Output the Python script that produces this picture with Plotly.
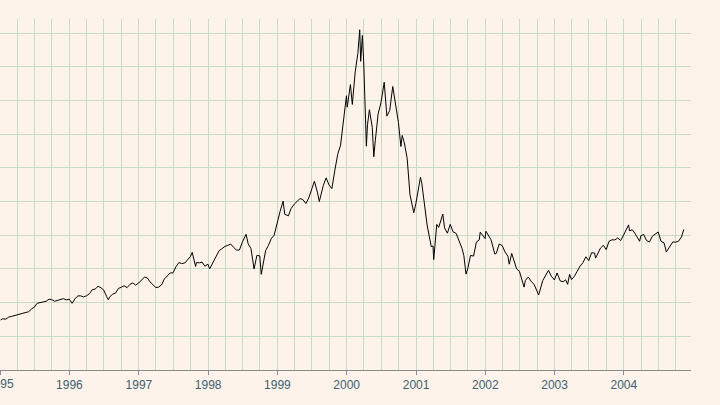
import plotly.graph_objects as go

dates = [
"1995-01-03","1995-01-15","1995-01-31","1995-02-15","1995-02-28","1995-03-15","1995-03-31","1995-04-15","1995-04-30","1995-05-15","1995-05-31","1995-06-15","1995-06-30","1995-07-15","1995-07-31","1995-08-15","1995-08-31","1995-09-15","1995-09-30","1995-10-15","1995-10-31","1995-11-15","1995-11-30","1995-12-15","1995-12-31",
"1996-01-15","1996-01-31","1996-02-15","1996-02-29","1996-03-15","1996-03-31","1996-04-15","1996-04-30","1996-05-15","1996-05-31","1996-06-15","1996-06-30","1996-07-15","1996-07-24","1996-07-31","1996-08-15","1996-08-31","1996-09-15","1996-09-30","1996-10-15","1996-10-31","1996-11-15","1996-11-30","1996-12-15","1996-12-31",
"1997-01-15","1997-01-31","1997-02-15","1997-02-28","1997-03-15","1997-03-31","1997-04-15","1997-04-30","1997-05-15","1997-05-31","1997-06-15","1997-06-30","1997-07-15","1997-07-31","1997-08-15","1997-08-31","1997-09-15","1997-09-30","1997-10-09","1997-10-27","1997-10-31","1997-11-15","1997-11-30","1997-12-15","1997-12-31",
"1998-01-09","1998-01-31","1998-02-15","1998-02-28","1998-03-15","1998-03-31","1998-04-15","1998-04-30","1998-05-15","1998-05-31","1998-06-15","1998-06-30","1998-07-20","1998-07-31","1998-08-15","1998-08-31","1998-09-15","1998-09-30","1998-10-08","1998-10-20","1998-10-31","1998-11-15","1998-11-30","1998-12-15","1998-12-31",
"1999-01-15","1999-01-31","1999-02-09","1999-02-28","1999-03-15","1999-03-31","1999-04-15","1999-04-30","1999-05-15","1999-05-31","1999-06-15","1999-06-30","1999-07-15","1999-07-31","1999-08-10","1999-08-31","1999-09-15","1999-09-30","1999-10-15","1999-10-31","1999-11-15","1999-11-30","1999-12-15","1999-12-31",
"2000-01-04","2000-01-21","2000-01-31","2000-02-15","2000-02-29","2000-03-10","2000-03-15","2000-03-24","2000-03-31","2000-04-14","2000-04-20","2000-04-30","2000-05-15","2000-05-23","2000-05-31","2000-06-15","2000-06-30","2000-07-17","2000-07-31","2000-08-15","2000-08-31","2000-09-15","2000-09-30","2000-10-13","2000-10-20","2000-10-31","2000-11-15","2000-11-30","2000-12-20","2000-12-31",
"2001-01-24","2001-01-31","2001-02-15","2001-02-28","2001-03-22","2001-03-31","2001-04-04","2001-04-20","2001-04-30","2001-05-22","2001-05-31","2001-06-15","2001-06-30","2001-07-15","2001-07-31","2001-08-15","2001-08-31","2001-09-10","2001-09-21","2001-09-30","2001-10-15","2001-10-31","2001-11-15","2001-11-30","2001-12-05","2001-12-31",
"2002-01-04","2002-01-31","2002-02-20","2002-02-28","2002-03-15","2002-03-31","2002-04-15","2002-04-30","2002-05-07","2002-05-20","2002-05-31","2002-06-15","2002-06-30","2002-07-24","2002-07-31","2002-08-15","2002-08-31","2002-09-15","2002-09-30","2002-10-09","2002-10-31","2002-11-15","2002-11-30","2002-12-15","2002-12-31",
"2003-01-14","2003-01-31","2003-02-15","2003-02-28","2003-03-11","2003-03-21","2003-03-31","2003-04-15","2003-04-30","2003-05-15","2003-05-31","2003-06-15","2003-06-30","2003-07-15","2003-07-31","2003-08-05","2003-08-31","2003-09-15","2003-09-30","2003-10-15","2003-10-31","2003-11-15","2003-11-30","2003-12-15","2003-12-31",
"2004-01-26","2004-01-31","2004-02-15","2004-02-28","2004-03-24","2004-03-31","2004-04-15","2004-04-30","2004-05-15","2004-05-31","2004-06-15","2004-06-30","2004-07-15","2004-07-31","2004-08-12","2004-08-31","2004-09-15","2004-09-30","2004-10-15","2004-10-31","2004-11-12",
]
values = [
743,760,755,785,794,805,817,826,843,858,865,905,933,990,1001,1010,1020,1050,1044,1020,1036,1050,1059,1040,1052,
990,1060,1100,1100,1085,1101,1130,1191,1200,1243,1220,1185,1090,1042,1081,1125,1141,1210,1227,1250,1222,1270,1293,1260,1291,
1330,1380,1365,1309,1270,1222,1230,1261,1350,1400,1440,1442,1530,1594,1580,1587,1640,1686,1745,1535,1594,1590,1601,1540,1570,
1500,1619,1710,1771,1800,1835,1850,1869,1820,1779,1780,1895,2014,1872,1800,1499,1700,1694,1420,1620,1771,1850,1950,2000,2193,
2350,2506,2310,2288,2400,2461,2500,2543,2530,2470,2550,2686,2800,2638,2500,2739,2850,2746,2690,2966,3200,3336,3650,4069,
3900,4235,3940,4420,4697,5048,4580,4963,4573,3321,3640,3861,3600,3164,3401,3800,3966,4270,3767,3850,4206,3900,3673,3316,3480,3370,3140,2598,2333,2471,
2859,2773,2450,2152,1830,1840,1638,2160,2116,2313,2110,2030,2161,2050,2027,1920,1805,1695,1423,1499,1700,1690,1900,1931,2046,1950,
2059,1934,1720,1731,1870,1845,1750,1688,1570,1730,1616,1500,1463,1230,1328,1380,1315,1270,1172,1114,1330,1410,1479,1390,1336,
1440,1321,1310,1338,1271,1420,1341,1390,1464,1540,1596,1680,1623,1740,1735,1660,1810,1850,1787,1910,1932,1930,1960,1920,2003,
2153,2066,2080,2030,1910,1994,2010,1920,1900,1987,2020,2048,1910,1887,1752,1838,1900,1897,1910,1975,2085,
]

fig = go.Figure(go.Scatter(x=dates, y=values, mode="lines",
                           line=dict(color="black", width=1), hoverinfo="skip"))
bg = "#fdf3ea"
grid = "#c6dcc4"
txt = "#3d6170"
fig.update_layout(
    width=720, height=405, paper_bgcolor=bg, plot_bgcolor=bg,
    margin=dict(l=0, r=29, t=19, b=35), showlegend=False,
    font=dict(family="Liberation Sans, Arial, sans-serif", size=12, color=txt),
)
fig.add_annotation(x="1995-01-01", y=0, xref="x", yref="paper", text="1995",
                   showarrow=False, yanchor="top", yshift=-5, font=dict(size=12, color=txt))
fig.update_xaxes(
    type="date", range=["1994-12-31", "2004-12-20"],
    dtick="M12", tick0="1995-01-01", tickformat="%Y",
    showgrid=True, gridcolor=grid, gridwidth=1,
    minor=dict(dtick="M3", tick0="1995-01-01", showgrid=True, gridcolor=grid, gridwidth=1),
    ticks="outside", ticklen=4, tickcolor="#8a8a8a",
    showline=True, linecolor="#8a8a8a", linewidth=1, zeroline=False,
)
fig.update_yaxes(
    range=[0, 5208], dtick=500, showticklabels=False,
    showgrid=True, gridcolor=grid, gridwidth=1, zeroline=False, showline=False,
)
fig.write_html("out.html", config={"displayModeBar": False},
               post_script="document.body.style.margin='0';document.body.style.background='%s';" % bg)
